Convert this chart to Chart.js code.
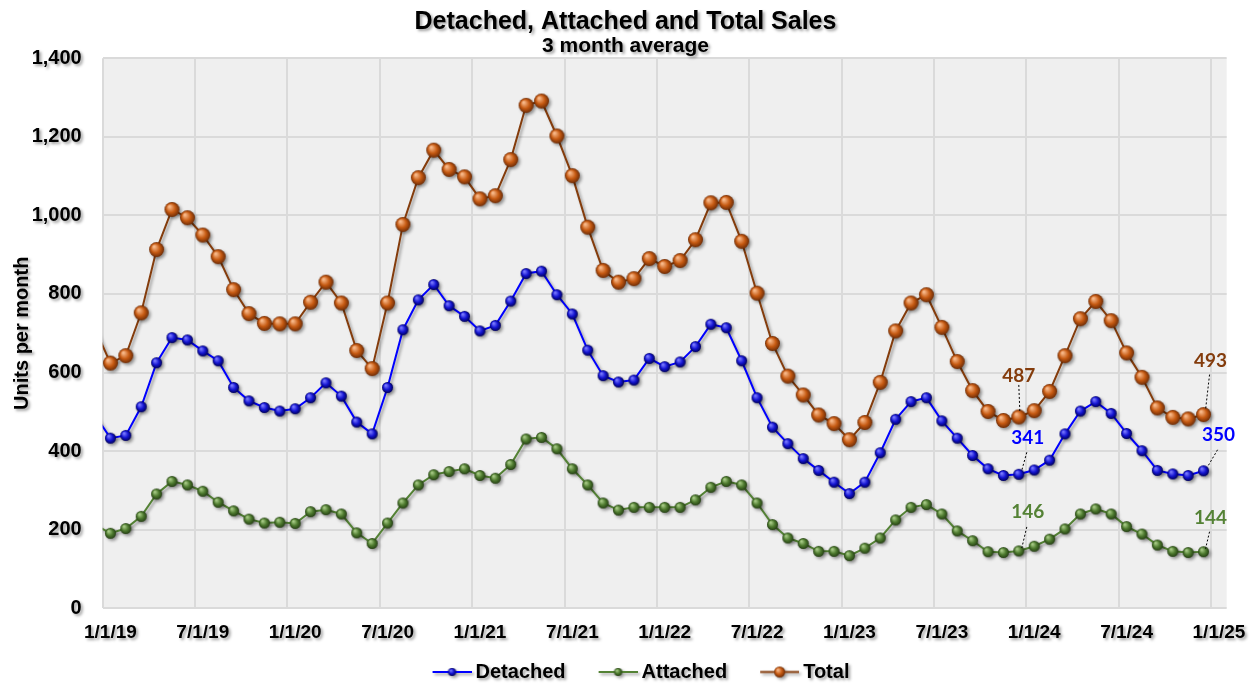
<!DOCTYPE html>
<html>
<head>
<meta charset="utf-8">
<script src="https://cdn.jsdelivr.net/npm/chart.js@4.4.1/dist/chart.umd.min.js"></script>
<style>
  html, body { margin: 0; padding: 0; background: #fff; }
</style>
</head>
<body>
<canvas id="salesChart" width="1251" height="686"></canvas>
<script>
// months from 12/1/18 to 12/1/24, one value per month (3 month average)
const months = [];
for (let i = 0; i < 73; i++) {
  const m = (11 + i) % 12 + 1;
  const y = 18 + Math.floor((11 + i) / 12);
  months.push(m + "/1/" + y);
}

const tickLabels = ["1/1/19", "7/1/19", "1/1/20", "7/1/20", "1/1/21", "7/1/21", "1/1/22",
  "7/1/22", "1/1/23", "7/1/23", "1/1/24", "7/1/24", "1/1/25"];

const detached = [492,
  433, 440, 513, 625, 689, 683, 655, 630, 562, 528, 511, 502,
  508, 536, 574, 540, 474, 444, 562, 709, 785, 824, 770, 743,
  706, 720, 782, 852, 858, 798, 749, 657, 592, 576, 581, 636,
  615, 627, 666, 723, 714, 630, 536, 461, 419, 381, 351, 321,
  292, 321, 396, 481, 526, 536, 477, 433, 389, 355, 338, 341,
  352, 377, 444, 502, 526, 496, 445, 401, 351, 342, 338, 350];

const attached = [213,
  191, 203, 234, 291, 323, 314, 298, 270, 248, 227, 217, 219,
  216, 246, 251, 240, 192, 165, 217, 268, 314, 340, 348, 355,
  338, 331, 366, 431, 435, 406, 355, 314, 268, 250, 257, 257,
  257, 257, 276, 308, 323, 314, 268, 213, 179, 165, 145, 145,
  134, 153, 179, 225, 257, 264, 240, 197, 172, 144, 142, 146,
  158, 176, 202, 240, 253, 240, 208, 189, 161, 145, 142, 144];

const total = [712,
  624, 643, 752, 913, 1015, 994, 950, 895, 811, 750, 725, 724,
  724, 779, 830, 777, 656, 610, 777, 977, 1096, 1166, 1117, 1098,
  1042, 1050, 1142, 1280, 1291, 1202, 1101, 970, 860, 830, 839, 890,
  870, 885, 938, 1032, 1033, 934, 802, 674, 591, 543, 492, 470,
  429, 473, 575, 706, 777, 798, 715, 628, 554, 501, 478, 487,
  503, 552, 643, 737, 781, 732, 650, 588, 510, 486, 482, 493];

const FONT = "'Liberation Sans', Arial, sans-serif";
const BLUE = "#0000ff", GREEN = "#548235", BROWN = "#843c0c";

// glossy marker like the Excel ones
function sphere(r, light, mid, dark) {
  const c = document.createElement("canvas");
  const size = Math.ceil(2 * r) + 2;
  c.width = c.height = size;
  const g = c.getContext("2d");
  const cx = size / 2, cy = size / 2;
  const grad = g.createRadialGradient(cx - r * 0.35, cy - r * 0.4, r * 0.1, cx, cy, r);
  grad.addColorStop(0, light);
  grad.addColorStop(0.55, mid);
  grad.addColorStop(1, dark);
  g.fillStyle = grad;
  g.beginPath();
  g.arc(cx, cy, r, 0, Math.PI * 2);
  g.fill();
  return c;
}

// legend symbol: line with the marker on it, sitting at the right of a wide box
function legendIcon(ball, color) {
  const c = document.createElement("canvas");
  c.width = 68;
  c.height = ball.height + 2;
  const g = c.getContext("2d");
  const mid = c.height / 2;
  g.strokeStyle = color;
  g.lineWidth = 2;
  g.beginPath();
  g.moveTo(29, mid);
  g.lineTo(68, mid);
  g.stroke();
  g.drawImage(ball, 48.5 - ball.width / 2, mid - ball.height / 2);
  return c;
}

const blueBall = sphere(5.5, "#7b7bff", "#1414d2", "#00005c");
const greenBall = sphere(5.5, "#a9cc88", "#4d7a2e", "#253f14");
const brownBall = sphere(7.5, "#f8b98a", "#c65a12", "#6e2c06");

const legendIcons = [
  legendIcon(sphere(4, "#7b7bff", "#1414d2", "#00005c"), BLUE),
  legendIcon(sphere(4, "#a9cc88", "#4d7a2e", "#253f14"), GREEN),
  legendIcon(sphere(5.5, "#f8b98a", "#c65a12", "#6e2c06"), BROWN)
];

// value call-outs: offsets of label and leader line from the point
const callouts = [
  { series: 2, index: 60, color: BROWN, dx: 0, dy: -41, from: [0, -32], to: [1, -6] },
  { series: 0, index: 60, color: BLUE, dx: 9, dy: -36, from: [8, -22], to: [3, -4] },
  { series: 1, index: 60, color: GREEN, dx: 9, dy: -39, from: [8, -24], to: [3, -3] },
  { series: 2, index: 72, color: BROWN, dx: 7, dy: -54, from: [6, -40], to: [2, -5] },
  { series: 0, index: 72, color: BLUE, dx: 15, dy: -36, from: [14, -21], to: [4, -4] },
  { series: 1, index: 72, color: GREEN, dx: 7, dy: -34, from: [6, -20], to: [2, -3] }
];

const toPoints = (values) => values.map((v, i) => ({ x: i - 0.5, y: v }));
// the 12/1/18 point only feeds the line entering the plot; its marker is off the axis
const markerSize = (r) => (c) => (c.dataIndex === 0 ? 0 : r);

const shadowPlugin = {
  id: "shadows",
  beforeDraw(chart) {
    const { ctx, chartArea: a } = chart;
    ctx.save();
    ctx.fillStyle = "#efefef";
    ctx.fillRect(a.left, a.top, a.width, a.height);
    ctx.restore();
    ctx.save();
    ctx.shadowColor = "rgba(0,0,0,0.38)";
    ctx.shadowBlur = 3;
    ctx.shadowOffsetX = 2;
    ctx.shadowOffsetY = 2;
    Object.values(chart.scales).forEach((s) => {
      if (s._plainGrid) return;
      const grid = s.drawGrid, border = s.drawBorder;
      s.drawGrid = function (area) {
        ctx.save();
        ctx.shadowColor = "transparent";
        grid.call(this, area);
        ctx.restore();
      };
      s.drawBorder = function () {
        ctx.save();
        ctx.shadowColor = "transparent";
        border.call(this);
        ctx.restore();
      };
      s._plainGrid = true;
    });
  },
  afterDraw(chart) {
    chart.ctx.restore();
  }
};

const calloutPlugin = {
  id: "callouts",
  afterDatasetsDraw(chart) {
    const ctx = chart.ctx;
    ctx.save();
    ctx.shadowColor = "transparent";
    callouts.forEach((c) => {
      const pt = chart.getDatasetMeta(c.series).data[c.index];
      const value = chart.data.datasets[c.series].data[c.index].y;
      ctx.strokeStyle = "#000";
      ctx.lineWidth = 1;
      ctx.setLineDash([2, 2]);
      ctx.beginPath();
      ctx.moveTo(pt.x + c.from[0], pt.y + c.from[1]);
      ctx.lineTo(pt.x + c.to[0], pt.y + c.to[1]);
      ctx.stroke();
      ctx.setLineDash([]);
      ctx.fillStyle = c.color;
      ctx.font = "bold 19px Lato, 'Open Sans', sans-serif";
      ctx.textAlign = "center";
      ctx.textBaseline = "middle";
      ctx.fillText(String(value), pt.x + c.dx, pt.y + c.dy);
    });
    ctx.restore();
  }
};

// legend row sits a little right of centre and lower in the original
const legendNudge = {
  id: "legendNudge",
  afterLayout(chart) {
    const l = chart.legend;
    if (!l) return;
    l.left += 4;
    l.right += 4;
    l.top += 6;
    l.bottom += 6;
  }
};

const ctx = document.getElementById("salesChart").getContext("2d");

const salesChart = new Chart(ctx, {
  type: "line",
  data: {
    labels: months,
    datasets: [
      {
        label: "Detached",
        data: toPoints(detached),
        borderColor: BLUE,
        borderWidth: 2,
        pointStyle: blueBall,
        pointRadius: markerSize(6),
        tension: 0,
        clip: 0
      },
      {
        label: "Attached",
        data: toPoints(attached),
        borderColor: GREEN,
        borderWidth: 2,
        pointStyle: greenBall,
        pointRadius: markerSize(6),
        tension: 0,
        clip: 0
      },
      {
        label: "Total",
        data: toPoints(total),
        borderColor: BROWN,
        borderWidth: 2,
        pointStyle: brownBall,
        pointRadius: markerSize(8),
        tension: 0,
        clip: 0
      }
    ]
  },
  options: {
    responsive: false,
    animation: false,
    events: [],
    layout: { padding: { left: 24, right: 24, top: 0, bottom: 0 } },
    plugins: {
      title: {
        display: true,
        text: "Detached, Attached and Total Sales",
        color: "#000",
        font: { family: FONT, size: 25, weight: "bold" },
        padding: { top: 7, bottom: 0 }
      },
      subtitle: {
        display: true,
        text: "3 month average",
        color: "#000",
        font: { family: FONT, size: 21, weight: "bold" },
        padding: { top: -3, bottom: -1 }
      },
      legend: {
        position: "bottom",
        labels: {
          usePointStyle: true,
          pointStyleWidth: 56,
          padding: 10,
          color: "#000",
          font: { family: FONT, size: 20, weight: "bold" },
          generateLabels(chart) {
            const items = Chart.defaults.plugins.legend.labels.generateLabels(chart);
            items.forEach((item, i) => { item.pointStyle = legendIcons[i]; });
            return items;
          }
        }
      },
      tooltip: { enabled: false }
    },
    scales: {
      x: {
        type: "linear",
        min: 0,
        max: 73,
        afterFit(scale) { scale.height = 37.7; },
        grid: { color: "#dadada", lineWidth: 2, drawTicks: false },
        border: { display: false },
        ticks: {
          stepSize: 6,
          includeBounds: false,
          autoSkip: false,
          maxRotation: 0,
          labelOffset: 7.7,
          padding: 13,
          color: "#000",
          font: { family: FONT, size: 19, weight: "bold" },
          callback: (v) => tickLabels[v / 6]
        }
      },
      y: {
        min: 0,
        max: 1400,
        afterFit(scale) { scale.width = 78.7; },
        grid: { color: "#dadada", lineWidth: 2, drawTicks: false },
        border: { display: false },
        ticks: {
          stepSize: 200,
          padding: 21,
          color: "#000",
          font: { family: FONT, size: 20, weight: "bold" },
          callback: (v) => v.toLocaleString("en-US")
        },
        title: {
          display: true,
          text: "Units per month",
          color: "#000",
          font: { family: FONT, size: 20, weight: "bold" },
          padding: { top: -14, bottom: 0 }
        }
      }
    }
  },
  plugins: [shadowPlugin, calloutPlugin, legendNudge]
});
</script>
</body>
</html>
